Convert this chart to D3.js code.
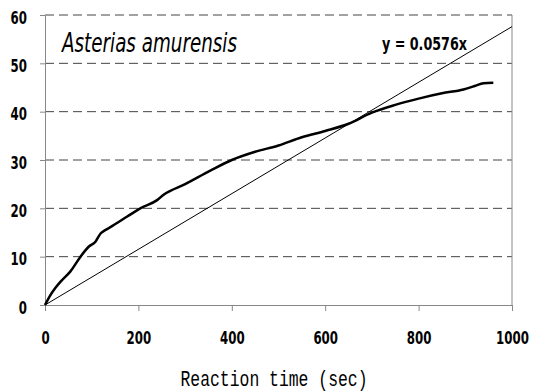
<!DOCTYPE html>
<html>
<head>
<meta charset="utf-8">
<script src="https://cdn.jsdelivr.net/npm/d3@7"></script>
<style>
  body { margin: 0; background: #fff; }
  svg { display: block; }
  .tick text { font-family: "Liberation Sans Narrow", "DejaVu Sans Condensed", sans-serif; font-weight: bold; font-size: 18px; fill: #000; }
</style>
</head>
<body>
<div id="wrapper"></div>
<script>
// reaction time (sec) vs. value
const times  = [0, 10, 22, 35, 54, 76, 94, 108, 119, 129, 140, 176, 204, 240, 254, 300, 354, 400, 450, 500, 550, 600, 650, 700, 750, 800, 850, 896, 920, 939, 960];
const values = [0, 1.8, 3.5, 5, 6.9, 10, 12.1, 13.1, 14.8, 15.5, 16.1, 18.3, 20, 21.7, 22.8, 25, 27.8, 30, 31.7, 33, 34.7, 36, 37.5, 39.8, 41.4, 42.7, 43.8, 44.6, 45.3, 45.9, 46];
const slope = 0.0576;
const xTicks = [0, 200, 400, 600, 800, 1000];
const yTicks = [0, 10, 20, 30, 40, 50, 60];

const width = 539, height = 392;
const margin = { top: 15, right: 27, bottom: 87, left: 45 };

const svg = d3.select("#wrapper").append("svg")
  .attr("width", width)
  .attr("height", height);

const x = d3.scaleLinear().domain([0, 1000]).range([margin.left, width - margin.right]);
const y = d3.scaleLinear().domain([0, 60]).range([height - margin.bottom, margin.top]);

// dashed grid
svg.append("g")
  .selectAll("line")
  .data(yTicks.filter(d => d > 0))
  .join("line")
  .attr("x1", x(0)).attr("x2", x(1000))
  .attr("y1", d => y(d)).attr("y2", d => y(d))
  .attr("stroke", "#444")
  .attr("stroke-width", 1)
  .attr("stroke-dasharray", "9,5");

// right border
svg.append("line")
  .attr("x1", x(1000)).attr("x2", x(1000))
  .attr("y1", y(60)).attr("y2", y(0))
  .attr("stroke", "#888");

const xAxis = svg.append("g")
  .attr("transform", `translate(0,${y(0)})`)
  .call(d3.axisBottom(x).tickValues(xTicks).tickFormat(d3.format("d")).tickSize(6).tickPadding(20).tickSizeOuter(0));

const yAxis = svg.append("g")
  .attr("transform", `translate(${x(0)},0)`)
  .call(d3.axisLeft(y).tickValues(yTicks).tickSize(5).tickPadding(13).tickSizeOuter(0));

svg.selectAll(".domain").attr("stroke", "#888");
svg.selectAll(".tick line").attr("stroke", "#888");
yAxis.selectAll(".tick text").attr("dy", "0.45em");

// squeeze the digits to the narrow look of the original
svg.selectAll(".tick text")
  .attr("textLength", d => String(d).length * 8.2)
  .attr("lengthAdjust", "spacingAndGlyphs");

// trend line y = 0.0576x
svg.append("line")
  .attr("x1", x(0)).attr("y1", y(0))
  .attr("x2", x(1000)).attr("y2", y(slope * 1000))
  .attr("stroke", "#000")
  .attr("stroke-width", 1);

// measured curve
const line = d3.line()
  .x((d, i) => x(times[i]))
  .y(d => y(d))
  .curve(d3.curveMonotoneX);

svg.append("path")
  .datum(values)
  .attr("d", line)
  .attr("fill", "none")
  .attr("stroke", "#000")
  .attr("stroke-width", 2.5)
  .attr("stroke-linejoin", "round");

// labels
svg.append("text")
  .attr("x", 62).attr("y", 52)
  .attr("font-family", "'Liberation Sans Narrow', 'DejaVu Sans Condensed', sans-serif")
  .attr("font-style", "italic")
  .attr("font-size", 26)
  .attr("textLength", 175)
  .attr("lengthAdjust", "spacingAndGlyphs")
  .text("Asterias amurensis");

svg.append("text")
  .attr("x", 382).attr("y", 50)
  .attr("font-family", "'Liberation Sans Narrow', 'DejaVu Sans Condensed', sans-serif")
  .attr("font-weight", "bold")
  .attr("font-size", 17)
  .attr("textLength", 85)
  .attr("lengthAdjust", "spacingAndGlyphs")
  .text("y = 0.0576x");

svg.append("text")
  .attr("x", 274).attr("y", 386)
  .attr("text-anchor", "middle")
  .attr("font-family", "'Liberation Mono', 'DejaVu Sans Mono', monospace")
  .attr("font-size", 22)
  .attr("textLength", 187)
  .attr("lengthAdjust", "spacingAndGlyphs")
  .text("Reaction time (sec)");
</script>
</body>
</html>
